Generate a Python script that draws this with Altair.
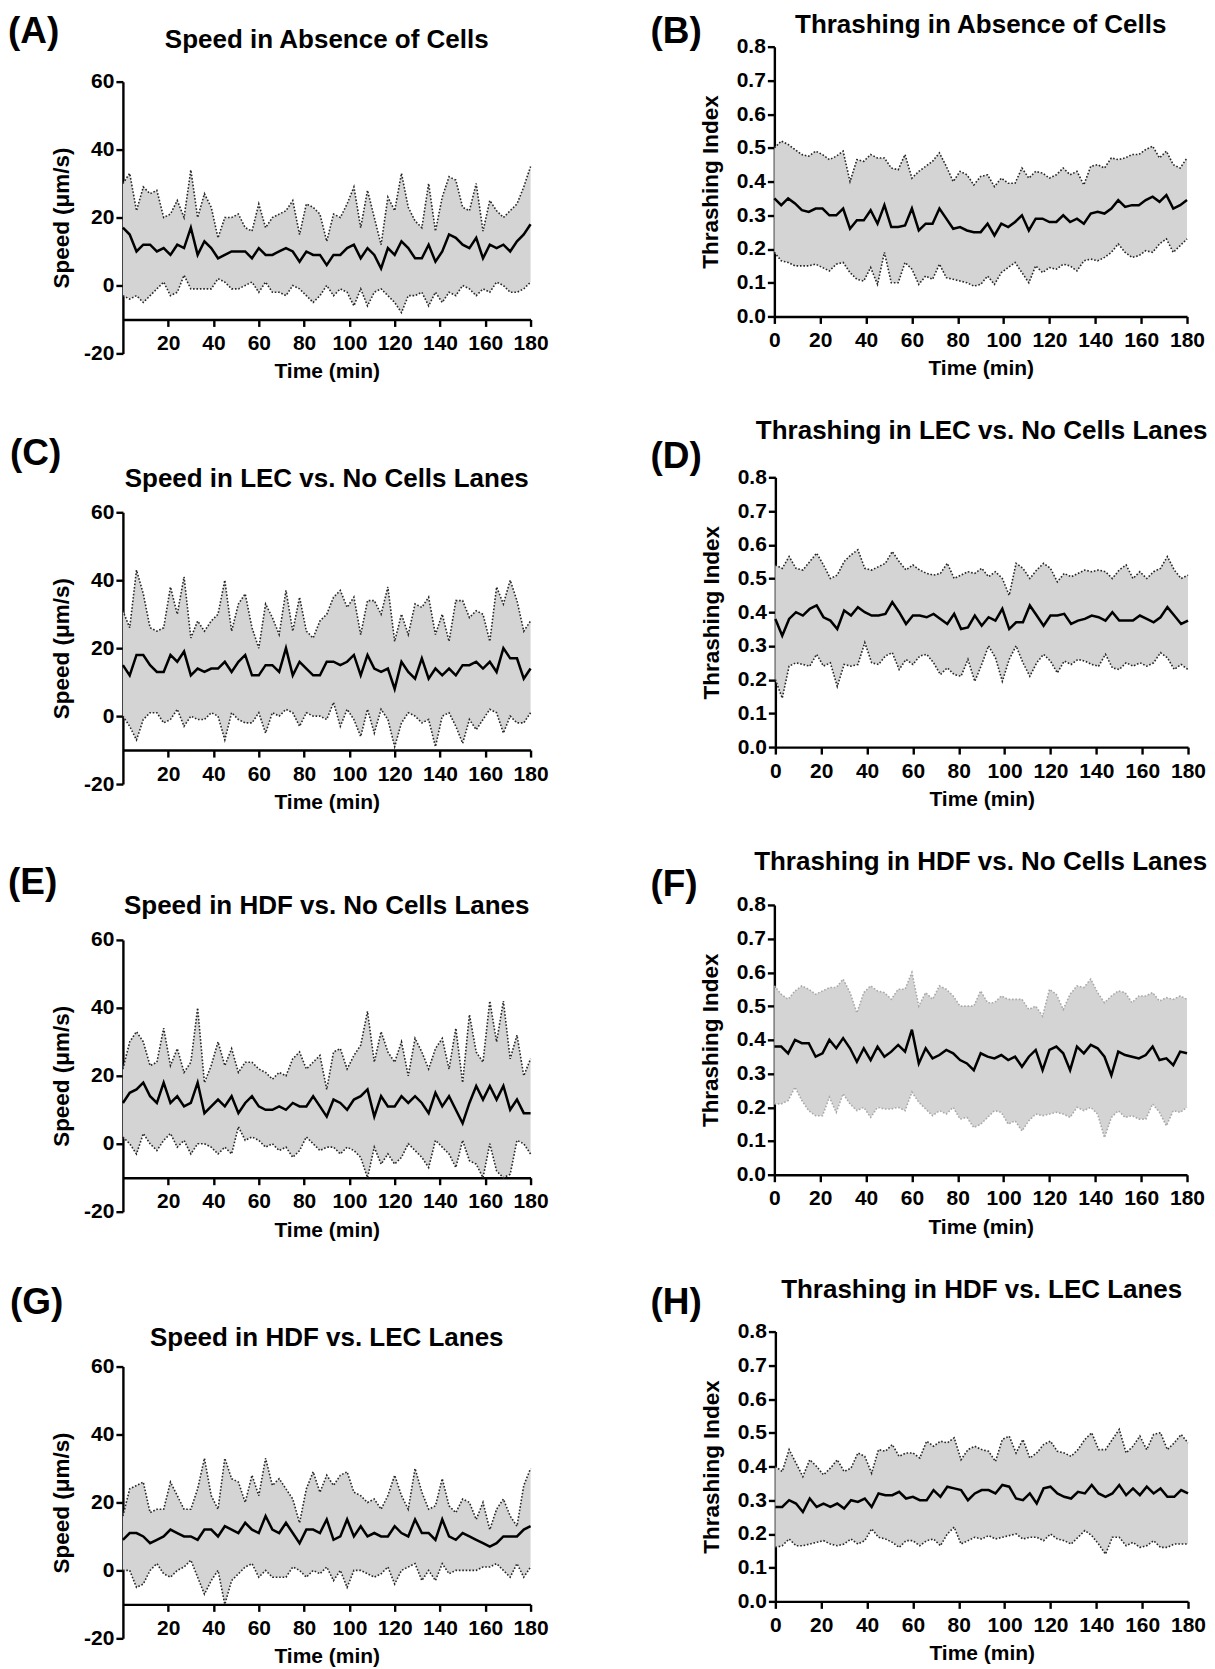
import altair as alt
import pandas as pd

# ---------------- data (3-min resolution) ----------------
time_min = list(range(0, 181, 3))

# (A) Speed in Absence of Cells
a_mean = [17,15,10,12,12,10,11,9,12,11, 17,9,13,11,8,9,10,10,10,8, 11,9,9,10,11,10,7,10,9,9,
          6,9,9,11,12,8,11,9,5,11, 9,13,11,8,8,12,7,10,15,14, 12,11,14,8,12,11,12,10,13,15, 18]
a_upper = [30,33,22,29,27,28,20,21,25,20, 34,20,27,23,14,20,20,21,17,16, 24,17,20,21,22,25,15,24,23,21,
           13,21,20,24,29,17,28,20,12,26, 22,33,23,19,17,30,16,26,32,31, 23,22,30,16,25,22,20,22,24,29, 35]
a_lower = [-3,-4,-3,-5,-3,-1,1,-3,-2,3, -1,-1,-1,-1,2,1,-1,-1,0,1, -2,1,-2,-2,-3,0,-1,-3,-5,-3,
           0,-3,-1,-2,-6,-1,-6,-2,-1,-3, -5,-8,-3,-3,-2,-6,-2,-5,-2,-3, 0,-1,-3,-1,-2,1,0,-2,-2,-1, 1]

# (B) Thrashing in Absence of Cells
b_mean = [0.35,0.33,0.35,0.335,0.315,0.31,0.32,0.32,0.30,0.30, 0.32,0.26,0.285,0.285,0.315,0.275,0.33,0.265,0.265,0.27,
          0.32,0.255,0.275,0.275,0.32,0.29,0.26,0.265,0.255,0.25, 0.25,0.275,0.24,0.275,0.265,0.28,0.30,0.255,0.29,0.29,
          0.28,0.28,0.30,0.28,0.29,0.275,0.305,0.31,0.305,0.32, 0.345,0.325,0.33,0.33,0.345,0.355,0.34,0.36,0.32,0.33, 0.345]
b_upper = [0.50,0.52,0.51,0.495,0.48,0.475,0.49,0.48,0.465,0.475, 0.49,0.40,0.465,0.46,0.48,0.47,0.47,0.44,0.435,0.48,
           0.41,0.43,0.445,0.46,0.485,0.445,0.40,0.43,0.42,0.39, 0.415,0.42,0.385,0.41,0.395,0.395,0.44,0.41,0.43,0.425,
           0.41,0.42,0.44,0.42,0.43,0.39,0.445,0.45,0.44,0.47, 0.465,0.47,0.48,0.48,0.495,0.505,0.47,0.49,0.45,0.44, 0.47]
b_lower = [0.19,0.165,0.16,0.15,0.15,0.15,0.155,0.145,0.135,0.155, 0.16,0.13,0.11,0.105,0.145,0.095,0.19,0.10,0.10,0.16,
           0.14,0.095,0.12,0.11,0.155,0.115,0.11,0.105,0.10,0.09, 0.095,0.12,0.095,0.13,0.145,0.16,0.13,0.10,0.15,0.13,
           0.145,0.14,0.155,0.15,0.135,0.165,0.17,0.165,0.175,0.19, 0.215,0.19,0.175,0.18,0.195,0.19,0.215,0.23,0.19,0.21, 0.23]

# (C) Speed in LEC vs. No Cells Lanes
c_mean = [15,12,18,18,15,13,13,18,16,19, 12,14,13,14,14,16,13,16,18,12, 12,15,15,13,20,12,16,14,12,12,
          16,16,15,16,18,12,18,14,13,14, 8,16,13,11,17,11,14,12,14,12, 15,15,16,14,16,13,20,17,17,11, 14]
c_upper = [31,26,43,36,26,25,26,38,30,41, 23,28,25,28,30,40,25,33,36,26, 20,33,29,24,37,25,35,25,23,28,
           30,35,37,32,35,24,34,34,30,38, 22,30,24,33,32,35,24,30,22,34, 34,29,31,30,22,38,33,40,34,25, 28]
c_lower = [0,-3,-7,-1,1,1,-2,-1,2,-3, 0,-1,-1,1,0,-7,1,-1,-2,-2, 1,-5,1,0,2,1,-3,1,0,0,
           -1,4,-3,2,-1,-6,2,-5,2,-1, -9,-2,1,0,-2,-1,-9,0,1,-3, -8,-1,-4,-1,2,1,-5,0,-2,-2, 1]

# (D) Thrashing in LEC vs. No Cells Lanes
d_mean = [0.38,0.33,0.38,0.40,0.39,0.41,0.42,0.385,0.375,0.35, 0.405,0.39,0.415,0.40,0.39,0.39,0.395,0.43,0.40,0.365,
          0.39,0.39,0.385,0.395,0.38,0.365,0.395,0.35,0.355,0.39, 0.36,0.385,0.375,0.41,0.35,0.37,0.37,0.42,0.39,0.36,
          0.39,0.39,0.395,0.365,0.375,0.38,0.39,0.385,0.375,0.40, 0.375,0.375,0.375,0.39,0.38,0.37,0.385,0.415,0.39,0.365, 0.375]
d_upper = [0.54,0.53,0.565,0.53,0.525,0.55,0.575,0.54,0.50,0.51, 0.55,0.57,0.585,0.53,0.525,0.535,0.545,0.58,0.55,0.525,
           0.54,0.525,0.515,0.51,0.515,0.545,0.50,0.51,0.52,0.515, 0.53,0.505,0.52,0.50,0.45,0.545,0.53,0.50,0.525,0.545,
           0.53,0.49,0.515,0.505,0.515,0.525,0.52,0.525,0.52,0.50, 0.525,0.54,0.50,0.52,0.50,0.52,0.53,0.565,0.525,0.50, 0.51]
d_lower = [0.20,0.145,0.24,0.25,0.245,0.24,0.275,0.24,0.25,0.18, 0.245,0.24,0.245,0.31,0.25,0.245,0.27,0.28,0.23,0.26,
           0.245,0.27,0.275,0.25,0.215,0.235,0.215,0.21,0.26,0.195, 0.245,0.30,0.265,0.195,0.26,0.30,0.25,0.21,0.25,0.275,
           0.255,0.22,0.255,0.245,0.26,0.255,0.245,0.24,0.275,0.235, 0.23,0.25,0.24,0.25,0.24,0.25,0.28,0.265,0.23,0.245, 0.23]

# (E) Speed in HDF vs. No Cells Lanes
e_mean = [12,15,16,18,14,12,18,12,14,11, 12,18,9,11,13,11,14,9,12,14, 11,10,10,11,10,12,11,11,14,11,
          8,13,12,10,13,14,16,8,14,11, 11,14,12,14,12,9,15,11,14,10, 6,12,17,13,17,13,17,10,13,9, 9]
e_upper = [22,30,33,30,23,24,34,23,28,21, 24,40,18,23,30,23,28,21,24,24, 22,21,19,21,20,25,27,22,24,26,
           16,27,28,22,26,29,39,24,33,27, 24,30,20,31,27,22,28,31,22,34, 18,38,27,24,42,30,42,25,32,20, 25]
e_lower = [2,0,-3,3,0,-2,1,3,-1,1, -3,0,0,-1,-3,-1,-3,5,1,2, 1,-1,0,-2,-1,-4,-2,2,0,-2,
           -1,-1,-3,-1,-2,-4,-10,-1,-6,-3, -6,-4,0,-2,-4,-7,1,-1,-3,-7, 1,-5,-6,-10,0,-8,-10,-9,1,0, -3]

# (F) Thrashing in HDF vs. No Cells Lanes
f_mean = [0.38,0.38,0.36,0.40,0.39,0.39,0.35,0.36,0.40,0.375, 0.405,0.375,0.335,0.375,0.34,0.38,0.35,0.365,0.385,0.365,
          0.43,0.33,0.375,0.345,0.355,0.37,0.36,0.34,0.33,0.31, 0.36,0.35,0.345,0.355,0.34,0.35,0.32,0.35,0.37,0.31,
          0.37,0.38,0.36,0.31,0.38,0.36,0.385,0.375,0.35,0.295, 0.365,0.355,0.35,0.345,0.355,0.38,0.34,0.345,0.325,0.365, 0.36]
f_upper = [0.56,0.535,0.52,0.545,0.56,0.55,0.535,0.545,0.555,0.555, 0.58,0.54,0.48,0.54,0.56,0.545,0.54,0.52,0.55,0.55,
           0.60,0.50,0.54,0.52,0.56,0.55,0.53,0.50,0.50,0.50, 0.545,0.51,0.51,0.53,0.52,0.52,0.52,0.49,0.50,0.47,
           0.55,0.535,0.49,0.535,0.56,0.555,0.58,0.54,0.51,0.53, 0.545,0.54,0.51,0.53,0.53,0.54,0.515,0.525,0.52,0.53, 0.52]
f_lower = [0.21,0.21,0.22,0.26,0.22,0.19,0.175,0.175,0.23,0.185, 0.24,0.21,0.19,0.20,0.17,0.20,0.195,0.195,0.20,0.19,
           0.245,0.215,0.195,0.175,0.19,0.18,0.20,0.165,0.17,0.14, 0.15,0.17,0.19,0.185,0.15,0.16,0.13,0.16,0.18,0.175,
           0.18,0.185,0.18,0.17,0.20,0.19,0.20,0.18,0.11,0.17, 0.19,0.17,0.175,0.165,0.165,0.21,0.185,0.145,0.19,0.185, 0.20]

# (G) Speed in HDF vs. LEC Lanes
g_mean = [9,11,11,10,8,9,10,12,11,10, 10,9,12,12,10,13,12,11,14,12, 11,16,12,11,14,11,8,12,12,11,
          15,9,10,15,10,13,10,11,10,10, 13,11,10,15,11,11,9,15,10,9, 11,10,9,8,7,8,10,10,10,12, 13]
g_upper = [16,24,25,26,17,18,18,26,22,18, 18,24,33,22,18,33,27,26,20,28, 22,33,25,27,24,21,14,24,29,23,
           28,25,28,29,23,22,20,21,18,22, 28,22,18,30,23,18,19,27,19,17, 21,20,15,20,12,18,21,16,13,25, 30]
g_lower = [0,0,-5,-4,0,2,-1,-2,0,1, 3,-2,-7,-3,0,-10,-3,-1,1,2, -2,0,-2,-2,-2,1,0,-2,0,-1,
           1,-3,0,-5,0,0,-1,-2,-1,1, -4,0,1,2,-3,0,-3,2,-1,0, 0,0,0,1,1,2,0,-2,2,-2, 1]

# (H) Thrashing in HDF vs. LEC Lanes
h_mean = [0.28,0.28,0.30,0.29,0.265,0.305,0.28,0.29,0.28,0.29, 0.275,0.30,0.295,0.305,0.28,0.32,0.315,0.315,0.325,0.305,
          0.31,0.30,0.30,0.33,0.31,0.34,0.335,0.33,0.30,0.32, 0.33,0.33,0.32,0.345,0.34,0.305,0.30,0.32,0.29,0.335,
          0.34,0.32,0.31,0.305,0.325,0.32,0.345,0.32,0.31,0.32, 0.345,0.315,0.335,0.315,0.34,0.32,0.335,0.31,0.31,0.33, 0.32]
h_upper = [0.40,0.385,0.45,0.41,0.37,0.42,0.40,0.375,0.395,0.42, 0.385,0.395,0.44,0.43,0.38,0.45,0.445,0.465,0.43,0.44,
           0.44,0.425,0.475,0.46,0.475,0.47,0.485,0.42,0.45,0.46, 0.45,0.445,0.415,0.48,0.49,0.44,0.48,0.425,0.44,0.465,
           0.475,0.445,0.44,0.43,0.45,0.48,0.50,0.45,0.45,0.48, 0.51,0.44,0.46,0.49,0.45,0.495,0.50,0.45,0.47,0.495, 0.47]
h_lower = [0.16,0.165,0.185,0.165,0.165,0.17,0.175,0.18,0.17,0.165, 0.17,0.185,0.17,0.18,0.215,0.19,0.185,0.175,0.16,0.18,
           0.18,0.165,0.18,0.185,0.165,0.20,0.22,0.17,0.18,0.19, 0.185,0.195,0.185,0.19,0.195,0.20,0.185,0.19,0.19,0.18,
           0.20,0.185,0.18,0.17,0.19,0.21,0.195,0.17,0.14,0.19, 0.19,0.165,0.175,0.16,0.165,0.18,0.16,0.16,0.17,0.17, 0.17]

speed_ticks = [-20, 0, 20, 40, 60]
thrash_ticks = [0.0, 0.1, 0.2, 0.3, 0.4, 0.5, 0.6, 0.7, 0.8]
speed_x_ticks = [20, 40, 60, 80, 100, 120, 140, 160, 180]
thrash_x_ticks = [0, 20, 40, 60, 80, 100, 120, 140, 160, 180]

# ---------------- styling ----------------
FONT = "Liberation Sans"
FILL = "#d4d4d4"
DARK = "#262626"
LIGHT = "#a9a9a9"
LEFT_W, LEFT_H = 408, 273
RIGHT_W, RIGHT_H = 413, 270


def panel(mean, upper, lower, kind, title, label, bound_color, title_y, label_x, label_y):
    df = pd.DataFrame({"t": time_min, "mean": mean, "hi": upper, "lo": lower})
    if kind == "speed":
        w, h = LEFT_W, LEFT_H
        ys = alt.Scale(domain=[-20, 60], range=[307, 35], nice=False, zero=False)
        yax = alt.Axis(values=speed_ticks, labelExpr="datum.value + ''", title="Speed (\u03bcm/s)", titlePadding=10)
        xax = alt.Axis(values=speed_x_ticks, title="Time (min)")
    else:
        w, h = RIGHT_W, RIGHT_H
        ys = alt.Scale(domain=[0, 0.8], nice=False, zero=False)
        yax = alt.Axis(values=thrash_ticks, format=".1f", title="Thrashing Index", titlePadding=14)
        xax = alt.Axis(values=thrash_x_ticks, title="Time (min)")
    xs = alt.Scale(domain=[0, 180], nice=False, zero=False)

    def X():
        return alt.X("t:Q", scale=xs, axis=xax, title="Time (min)")

    def Y(field):
        return alt.Y(field + ":Q", scale=ys, axis=yax, title=yax.title)

    base = alt.Chart(df)
    band = base.mark_area(color=FILL, opacity=1).encode(x=X(), y=Y("lo"), y2="hi:Q")
    up = base.mark_line(color=bound_color, strokeDash=[1.6, 1.8], strokeWidth=1.6).encode(x=X(), y=Y("hi"))
    dn = base.mark_line(color=bound_color, strokeDash=[1.6, 1.8], strokeWidth=1.6).encode(x=X(), y=Y("lo"))
    mline = base.mark_line(color="black", strokeWidth=2.5).encode(x=X(), y=Y("mean"))
    ttl = alt.Chart(pd.DataFrame({"s": [title]})).mark_text(
        font=FONT, fontSize=26, fontWeight="bold", align="center", baseline="alphabetic", color="black"
    ).encode(text="s:N", x=alt.value(w / 2), y=alt.value(title_y))
    lab = alt.Chart(pd.DataFrame({"s": [label]})).mark_text(
        font=FONT, fontSize=37, fontWeight="bold", align="left", baseline="alphabetic", color="black"
    ).encode(text="s:N", x=alt.value(label_x), y=alt.value(label_y))
    return alt.layer(band, up, dn, mline, ttl, lab).properties(width=w, height=h)


pA = panel(a_mean, a_upper, a_lower, "speed", "Speed in Absence of Cells", "(A)", DARK, 1, -115, -4)
pB = panel(b_mean, b_upper, b_lower, "thrash", "Thrashing in Absence of Cells", "(B)", DARK, -14, -124, -4)
pC = panel(c_mean, c_upper, c_lower, "speed", "Speed in LEC vs. No Cells Lanes", "(C)", DARK, 10, -113, -12)
pD = panel(d_mean, d_upper, d_lower, "thrash", "Thrashing in LEC vs. No Cells Lanes", "(D)", DARK, -38, -125, -9)
pE = panel(e_mean, e_upper, e_lower, "speed", "Speed in HDF vs. No Cells Lanes", "(E)", DARK, 9, -115, -11)
pF = panel(f_mean, f_upper, f_lower, "thrash", "Thrashing in HDF vs. No Cells Lanes", "(F)", LIGHT, -35, -124, -9)
pG = panel(g_mean, g_upper, g_lower, "speed", "Speed in HDF vs. LEC Lanes", "(G)", DARK, 14, -113, -18)
pH = panel(h_mean, h_upper, h_lower, "thrash", "Thrashing in HDF vs. LEC Lanes", "(H)", DARK, -34, -125, -18)

HSP = 102
rows = [alt.hconcat(l, r, spacing=HSP) for l, r in [(pA, pB), (pC, pD), (pE, pF), (pG, pH)]]

chart = alt.vconcat(*rows, spacing=36).properties(
    autosize=alt.AutoSizeParams(type="none"),
    padding={"left": 115, "top": 38, "right": 1085, "bottom": 1623},
).configure_view(strokeWidth=0).configure_axis(
    domainColor="black", domainWidth=2.4, tickColor="black", tickWidth=2.4, tickSize=7,
    labelFont=FONT, labelFontSize=21, labelFontWeight="bold", labelColor="black",
    labelOverlap=False, labelFlush=False, labelBound=False,
    titleFont=FONT, titleFontWeight="bold", titleColor="black", grid=False,
).configure_axisX(labelPadding=6, titleFontSize=21, titlePadding=7.5).configure_axisY(
    labelPadding=2, titleFontSize=22.5
)

chart.save("out.html", embed_options={"renderer": "svg", "actions": False})
